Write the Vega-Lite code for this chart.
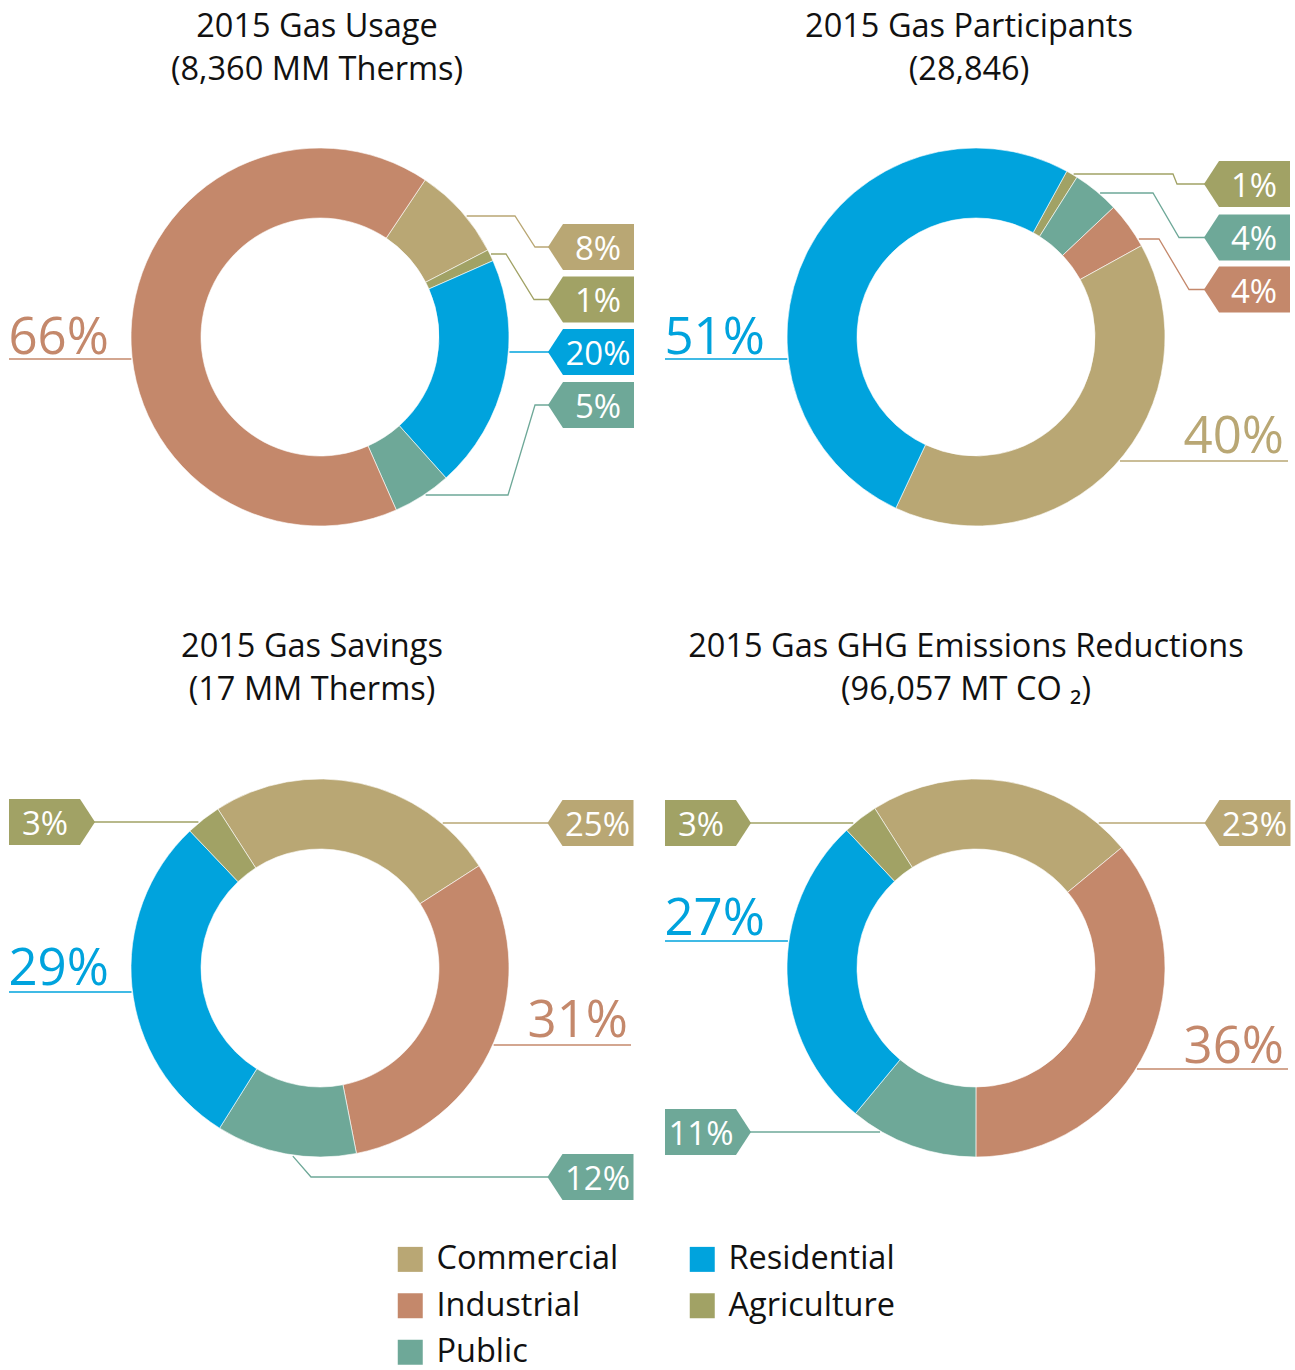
{
  "$schema": "https://vega.github.io/schema/vega-lite/v6.json",
  "background": "white",
  "padding": {"top": 10, "left": 0, "right": 0, "bottom": 0},
  "config": {
    "view": {"stroke": null},
    "font": "Open Sans",
    "title": {"font": "Open Sans", "fontSize": 32.5, "fontWeight": "normal", "color": "#111111", "lineHeight": 43, "anchor": "middle"},
    "legend": {"labelFont": "Open Sans", "labelFontSize": 32.5, "labelColor": "#111111", "labelLimit": 400, "symbolSize": 625, "symbolType": "square", "symbolStrokeWidth": 0, "symbolOpacity": 1, "labelOffset": 10, "rowPadding": 13.5, "columnPadding": 67}
  },
  "datasets": {
    "slices": [
      {"chart": "usage", "category": "Commercial", "pct": 8, "order": 1, "kind": "tag", "side": "right", "lx": 1.4263, "ly": -0.4737},
      {"chart": "usage", "category": "Agriculture", "pct": 1, "order": 2, "kind": "tag", "side": "right", "lx": 1.4263, "ly": -0.1974},
      {"chart": "usage", "category": "Residential", "pct": 20, "order": 3, "kind": "tag", "side": "right", "lx": 1.4263, "ly": 0.0789},
      {"chart": "usage", "category": "Public", "pct": 5, "order": 4, "kind": "tag", "side": "right", "lx": 1.4263, "ly": 0.3579},
      {"chart": "usage", "category": "Industrial", "pct": 66, "order": 5, "kind": "big", "side": "left", "lx": -1.64, "ly": 0.0895},
      {"chart": "participants", "category": "Agriculture", "pct": 1, "order": 1, "kind": "tag", "side": "right", "lx": 1.4263, "ly": -0.8053},
      {"chart": "participants", "category": "Public", "pct": 4, "order": 2, "kind": "tag", "side": "right", "lx": 1.4263, "ly": -0.5237},
      {"chart": "participants", "category": "Industrial", "pct": 4, "order": 3, "kind": "tag", "side": "right", "lx": 1.4263, "ly": -0.25},
      {"chart": "participants", "category": "Commercial", "pct": 40, "order": 4, "kind": "big", "side": "right", "lx": 1.6211, "ly": 0.6105},
      {"chart": "participants", "category": "Residential", "pct": 51, "order": 5, "kind": "big", "side": "left", "lx": -1.64, "ly": 0.0895},
      {"chart": "savings", "category": "Commercial", "pct": 25, "order": 1, "kind": "tag", "side": "right", "lx": 1.4237, "ly": -0.7632},
      {"chart": "savings", "category": "Industrial", "pct": 31, "order": 2, "kind": "big", "side": "right", "lx": 1.6211, "ly": 0.3632},
      {"chart": "savings", "category": "Public", "pct": 12, "order": 3, "kind": "tag", "side": "right", "lx": 1.4237, "ly": 1.1},
      {"chart": "savings", "category": "Residential", "pct": 29, "order": 4, "kind": "big", "side": "left", "lx": -1.64, "ly": 0.0895},
      {"chart": "savings", "category": "Agriculture", "pct": 3, "order": 5, "kind": "tag", "side": "left", "lx": -1.4105, "ly": -0.7684},
      {"chart": "ghg", "category": "Commercial", "pct": 23, "order": 1, "kind": "tag", "side": "right", "lx": 1.4289, "ly": -0.7632},
      {"chart": "ghg", "category": "Industrial", "pct": 36, "order": 2, "kind": "big", "side": "right", "lx": 1.6211, "ly": 0.5},
      {"chart": "ghg", "category": "Public", "pct": 11, "order": 3, "kind": "tag", "side": "left", "lx": -1.4105, "ly": 0.8632},
      {"chart": "ghg", "category": "Residential", "pct": 27, "order": 4, "kind": "big", "side": "left", "lx": -1.64, "ly": -0.1737},
      {"chart": "ghg", "category": "Agriculture", "pct": 3, "order": 5, "kind": "tag", "side": "left", "lx": -1.4105, "ly": -0.7632}
    ],
    "leaders": [
      {"chart": "usage", "category": "Industrial", "seq": 1, "lx": -1.6368, "ly": 0.1158},
      {"chart": "usage", "category": "Industrial", "seq": 2, "lx": -0.993, "ly": 0.1158},
      {"chart": "usage", "category": "Commercial", "seq": 1, "lx": 0.772, "ly": -0.6368},
      {"chart": "usage", "category": "Commercial", "seq": 2, "lx": 1.0263, "ly": -0.6368},
      {"chart": "usage", "category": "Commercial", "seq": 3, "lx": 1.1316, "ly": -0.4737},
      {"chart": "usage", "category": "Commercial", "seq": 4, "lx": 1.21, "ly": -0.4737},
      {"chart": "usage", "category": "Agriculture", "seq": 1, "lx": 0.90, "ly": -0.4368},
      {"chart": "usage", "category": "Agriculture", "seq": 2, "lx": 0.9789, "ly": -0.4368},
      {"chart": "usage", "category": "Agriculture", "seq": 3, "lx": 1.1263, "ly": -0.1974},
      {"chart": "usage", "category": "Agriculture", "seq": 4, "lx": 1.21, "ly": -0.1974},
      {"chart": "usage", "category": "Residential", "seq": 1, "lx": 0.997, "ly": 0.0789},
      {"chart": "usage", "category": "Residential", "seq": 2, "lx": 1.21, "ly": 0.0789},
      {"chart": "usage", "category": "Public", "seq": 1, "lx": 0.556, "ly": 0.8316},
      {"chart": "usage", "category": "Public", "seq": 2, "lx": 0.9895, "ly": 0.8316},
      {"chart": "usage", "category": "Public", "seq": 3, "lx": 1.1316, "ly": 0.3579},
      {"chart": "usage", "category": "Public", "seq": 4, "lx": 1.21, "ly": 0.3579},
      {"chart": "participants", "category": "Residential", "seq": 1, "lx": -1.6368, "ly": 0.1158},
      {"chart": "participants", "category": "Residential", "seq": 2, "lx": -0.993, "ly": 0.1158},
      {"chart": "participants", "category": "Commercial", "seq": 1, "lx": 0.758, "ly": 0.6526},
      {"chart": "participants", "category": "Commercial", "seq": 2, "lx": 1.6421, "ly": 0.6526},
      {"chart": "participants", "category": "Agriculture", "seq": 1, "lx": 0.514, "ly": -0.8579},
      {"chart": "participants", "category": "Agriculture", "seq": 2, "lx": 1.0368, "ly": -0.8579},
      {"chart": "participants", "category": "Agriculture", "seq": 3, "lx": 1.0579, "ly": -0.8053},
      {"chart": "participants", "category": "Agriculture", "seq": 4, "lx": 1.21, "ly": -0.8053},
      {"chart": "participants", "category": "Public", "seq": 1, "lx": 0.653, "ly": -0.7579},
      {"chart": "participants", "category": "Public", "seq": 2, "lx": 0.9316, "ly": -0.7579},
      {"chart": "participants", "category": "Public", "seq": 3, "lx": 1.0684, "ly": -0.5237},
      {"chart": "participants", "category": "Public", "seq": 4, "lx": 1.21, "ly": -0.5237},
      {"chart": "participants", "category": "Industrial", "seq": 1, "lx": 0.857, "ly": -0.5158},
      {"chart": "participants", "category": "Industrial", "seq": 2, "lx": 0.9632, "ly": -0.5158},
      {"chart": "participants", "category": "Industrial", "seq": 3, "lx": 1.1211, "ly": -0.25},
      {"chart": "participants", "category": "Industrial", "seq": 4, "lx": 1.21, "ly": -0.25},
      {"chart": "savings", "category": "Agriculture", "seq": 1, "lx": -1.19, "ly": -0.7684},
      {"chart": "savings", "category": "Agriculture", "seq": 2, "lx": -0.640, "ly": -0.7684},
      {"chart": "savings", "category": "Commercial", "seq": 1, "lx": 0.646, "ly": -0.7632},
      {"chart": "savings", "category": "Commercial", "seq": 2, "lx": 1.21, "ly": -0.7632},
      {"chart": "savings", "category": "Residential", "seq": 1, "lx": -1.6368, "ly": 0.1263},
      {"chart": "savings", "category": "Residential", "seq": 2, "lx": -0.992, "ly": 0.1263},
      {"chart": "savings", "category": "Industrial", "seq": 1, "lx": 0.914, "ly": 0.4053},
      {"chart": "savings", "category": "Industrial", "seq": 2, "lx": 1.6368, "ly": 0.4053},
      {"chart": "savings", "category": "Public", "seq": 1, "lx": -0.143, "ly": 0.99},
      {"chart": "savings", "category": "Public", "seq": 2, "lx": -0.0474, "ly": 1.1},
      {"chart": "savings", "category": "Public", "seq": 3, "lx": 1.21, "ly": 1.1},
      {"chart": "ghg", "category": "Agriculture", "seq": 1, "lx": -1.19, "ly": -0.7632},
      {"chart": "ghg", "category": "Agriculture", "seq": 2, "lx": -0.646, "ly": -0.7632},
      {"chart": "ghg", "category": "Commercial", "seq": 1, "lx": 0.646, "ly": -0.7632},
      {"chart": "ghg", "category": "Commercial", "seq": 2, "lx": 1.21, "ly": -0.7632},
      {"chart": "ghg", "category": "Residential", "seq": 1, "lx": -1.6368, "ly": -0.1421},
      {"chart": "ghg", "category": "Residential", "seq": 2, "lx": -0.990, "ly": -0.1421},
      {"chart": "ghg", "category": "Industrial", "seq": 1, "lx": 0.847, "ly": 0.5316},
      {"chart": "ghg", "category": "Industrial", "seq": 2, "lx": 1.6421, "ly": 0.5316},
      {"chart": "ghg", "category": "Public", "seq": 1, "lx": -1.19, "ly": 0.8632},
      {"chart": "ghg", "category": "Public", "seq": 2, "lx": -0.505, "ly": 0.8632}
    ]
  },
  "columns": 2,
  "spacing": {"row": 53, "column": 16},
  "resolve": {"scale": {"theta": "independent", "x": "independent", "y": "independent"}},
  "concat": [
    {
      "width": 640, "height": 480,
      "title": {"text": ["2015 Gas Usage", "(8,360 MM Therms)"], "offset": 11, "dx": -3},
      "layer": [
        {"data": {"name": "slices"}, "transform": [{"filter": "datum.chart === 'usage'"}],
         "mark": {"type": "arc", "outerRadius": 189, "innerRadius": 119, "stroke": "#ffffff", "strokeWidth": 0.6},
         "encoding": {
           "theta": {"field": "pct", "type": "quantitative", "stack": true, "scale": {"range": [0.590, 6.8732]}},
           "order": {"field": "order", "type": "quantitative"},
           "color": {"field": "category", "type": "nominal", "scale": {"domain": ["Commercial", "Industrial", "Public", "Residential", "Agriculture"], "range": ["#B9A774", "#C4886B", "#6EA898", "#00A3DD", "#A1A265"]},
             "legend": {"orient": "none", "legendX": 394, "legendY": 1146, "columns": 2, "title": null, "symbolType": "square"}}
         }},
        {"data": {"name": "leaders"}, "transform": [{"filter": "datum.chart === 'usage'"}],
         "mark": {"type": "line", "strokeWidth": 1.3},
         "encoding": {
           "x": {"field": "lx", "type": "quantitative", "scale": {"domain": [-1.68421, 1.68421], "nice": false, "zero": false}, "axis": null},
           "y": {"field": "ly", "type": "quantitative", "scale": {"domain": [-1.26316, 1.26316], "nice": false, "zero": false, "reverse": true}, "axis": null},
           "order": {"field": "seq", "type": "quantitative"},
           "color": {"field": "category", "type": "nominal", "legend": null}
         }},
        {"data": {"name": "slices"}, "transform": [{"filter": "datum.chart === 'usage' && datum.kind === 'tag' && datum.side === 'right'"}],
         "mark": {"type": "point", "shape": "M-1,0L-0.651,-0.535L1,-0.535L1,0.535L-0.651,0.535Z", "size": 7396, "filled": true, "opacity": 1, "strokeWidth": 0},
         "encoding": {
           "x": {"field": "lx", "type": "quantitative"},
           "y": {"field": "ly", "type": "quantitative"},
           "color": {"field": "category", "type": "nominal", "legend": null}
         }},
        {"data": {"name": "slices"}, "transform": [{"filter": "datum.chart === 'usage' && datum.kind === 'tag' && datum.side === 'right'"}, {"calculate": "datum.pct + '%'", "as": "lbl"}],
         "mark": {"type": "text", "font": "Open Sans", "fontSize": 33, "color": "#ffffff", "align": "center", "baseline": "middle", "dx": 7, "dy": 3},
         "encoding": {
           "x": {"field": "lx", "type": "quantitative"},
           "y": {"field": "ly", "type": "quantitative"},
           "text": {"field": "lbl"}
         }},
        {"data": {"name": "slices"}, "transform": [{"filter": "datum.chart === 'usage' && datum.kind === 'big' && datum.side === 'left'"}, {"calculate": "datum.pct + '%'", "as": "lbl"}],
         "mark": {"type": "text", "font": "Open Sans", "fontSize": 51, "align": "left", "baseline": "alphabetic"},
         "encoding": {
           "x": {"field": "lx", "type": "quantitative"},
           "y": {"field": "ly", "type": "quantitative"},
           "text": {"field": "lbl"},
           "color": {"field": "category", "type": "nominal", "legend": null}
         }}
      ]
    },
    {
      "width": 640, "height": 480,
      "title": {"text": ["2015 Gas Participants", "(28,846)"], "offset": 11, "dx": -7},
      "layer": [
        {"data": {"name": "slices"}, "transform": [{"filter": "datum.chart === 'participants'"}],
         "mark": {"type": "arc", "outerRadius": 189, "innerRadius": 119, "stroke": "#ffffff", "strokeWidth": 0.6},
         "encoding": {
           "theta": {"field": "pct", "type": "quantitative", "stack": true, "scale": {"range": [0.501, 6.7842]}},
           "order": {"field": "order", "type": "quantitative"},
           "color": {"field": "category", "type": "nominal", "legend": null}
         }},
        {"data": {"name": "leaders"}, "transform": [{"filter": "datum.chart === 'participants'"}],
         "mark": {"type": "line", "strokeWidth": 1.3},
         "encoding": {
           "x": {"field": "lx", "type": "quantitative", "scale": {"domain": [-1.68421, 1.68421], "nice": false, "zero": false}, "axis": null},
           "y": {"field": "ly", "type": "quantitative", "scale": {"domain": [-1.26316, 1.26316], "nice": false, "zero": false, "reverse": true}, "axis": null},
           "order": {"field": "seq", "type": "quantitative"},
           "color": {"field": "category", "type": "nominal", "legend": null}
         }},
        {"data": {"name": "slices"}, "transform": [{"filter": "datum.chart === 'participants' && datum.kind === 'tag' && datum.side === 'right'"}],
         "mark": {"type": "point", "shape": "M-1,0L-0.651,-0.535L1,-0.535L1,0.535L-0.651,0.535Z", "size": 7396, "filled": true, "opacity": 1, "strokeWidth": 0},
         "encoding": {
           "x": {"field": "lx", "type": "quantitative"},
           "y": {"field": "ly", "type": "quantitative"},
           "color": {"field": "category", "type": "nominal", "legend": null}
         }},
        {"data": {"name": "slices"}, "transform": [{"filter": "datum.chart === 'participants' && datum.kind === 'tag' && datum.side === 'right'"}, {"calculate": "datum.pct + '%'", "as": "lbl"}],
         "mark": {"type": "text", "font": "Open Sans", "fontSize": 33, "color": "#ffffff", "align": "center", "baseline": "middle", "dx": 7, "dy": 3},
         "encoding": {
           "x": {"field": "lx", "type": "quantitative"},
           "y": {"field": "ly", "type": "quantitative"},
           "text": {"field": "lbl"}
         }},
        {"data": {"name": "slices"}, "transform": [{"filter": "datum.chart === 'participants' && datum.kind === 'big' && datum.side === 'left'"}, {"calculate": "datum.pct + '%'", "as": "lbl"}],
         "mark": {"type": "text", "font": "Open Sans", "fontSize": 51, "align": "left", "baseline": "alphabetic"},
         "encoding": {
           "x": {"field": "lx", "type": "quantitative"},
           "y": {"field": "ly", "type": "quantitative"},
           "text": {"field": "lbl"},
           "color": {"field": "category", "type": "nominal", "legend": null}
         }},
        {"data": {"name": "slices"}, "transform": [{"filter": "datum.chart === 'participants' && datum.kind === 'big' && datum.side === 'right'"}, {"calculate": "datum.pct + '%'", "as": "lbl"}],
         "mark": {"type": "text", "font": "Open Sans", "fontSize": 51, "align": "right", "baseline": "alphabetic"},
         "encoding": {
           "x": {"field": "lx", "type": "quantitative"},
           "y": {"field": "ly", "type": "quantitative"},
           "text": {"field": "lbl"},
           "color": {"field": "category", "type": "nominal", "legend": null}
         }}
      ]
    },
    {
      "width": 640, "height": 480,
      "title": {"text": ["2015 Gas Savings", "(17 MM Therms)"], "offset": 22, "dx": -8},
      "layer": [
        {"data": {"name": "slices"}, "transform": [{"filter": "datum.chart === 'savings'"}],
         "mark": {"type": "arc", "outerRadius": 189, "innerRadius": 119, "stroke": "#ffffff", "strokeWidth": 0.6},
         "encoding": {
           "theta": {"field": "pct", "type": "quantitative", "stack": true, "scale": {"range": [-0.571, 5.7122]}},
           "order": {"field": "order", "type": "quantitative"},
           "color": {"field": "category", "type": "nominal", "legend": null}
         }},
        {"data": {"name": "leaders"}, "transform": [{"filter": "datum.chart === 'savings'"}],
         "mark": {"type": "line", "strokeWidth": 1.3},
         "encoding": {
           "x": {"field": "lx", "type": "quantitative", "scale": {"domain": [-1.68421, 1.68421], "nice": false, "zero": false}, "axis": null},
           "y": {"field": "ly", "type": "quantitative", "scale": {"domain": [-1.26316, 1.26316], "nice": false, "zero": false, "reverse": true}, "axis": null},
           "order": {"field": "seq", "type": "quantitative"},
           "color": {"field": "category", "type": "nominal", "legend": null}
         }},
        {"data": {"name": "slices"}, "transform": [{"filter": "datum.chart === 'savings' && datum.kind === 'tag' && datum.side === 'right'"}],
         "mark": {"type": "point", "shape": "M-1,0L-0.651,-0.535L1,-0.535L1,0.535L-0.651,0.535Z", "size": 7396, "filled": true, "opacity": 1, "strokeWidth": 0},
         "encoding": {
           "x": {"field": "lx", "type": "quantitative"},
           "y": {"field": "ly", "type": "quantitative"},
           "color": {"field": "category", "type": "nominal", "legend": null}
         }},
        {"data": {"name": "slices"}, "transform": [{"filter": "datum.chart === 'savings' && datum.kind === 'tag' && datum.side === 'left'"}],
         "mark": {"type": "point", "shape": "M1,0L0.651,-0.535L-1,-0.535L-1,0.535L0.651,0.535Z", "size": 7396, "filled": true, "opacity": 1, "strokeWidth": 0},
         "encoding": {
           "x": {"field": "lx", "type": "quantitative"},
           "y": {"field": "ly", "type": "quantitative"},
           "color": {"field": "category", "type": "nominal", "legend": null}
         }},
        {"data": {"name": "slices"}, "transform": [{"filter": "datum.chart === 'savings' && datum.kind === 'tag' && datum.side === 'right'"}, {"calculate": "datum.pct + '%'", "as": "lbl"}],
         "mark": {"type": "text", "font": "Open Sans", "fontSize": 33, "color": "#ffffff", "align": "center", "baseline": "middle", "dx": 7, "dy": 3},
         "encoding": {
           "x": {"field": "lx", "type": "quantitative"},
           "y": {"field": "ly", "type": "quantitative"},
           "text": {"field": "lbl"}
         }},
        {"data": {"name": "slices"}, "transform": [{"filter": "datum.chart === 'savings' && datum.kind === 'tag' && datum.side === 'left'"}, {"calculate": "datum.pct + '%'", "as": "lbl"}],
         "mark": {"type": "text", "font": "Open Sans", "fontSize": 33, "color": "#ffffff", "align": "center", "baseline": "middle", "dx": -7, "dy": 3},
         "encoding": {
           "x": {"field": "lx", "type": "quantitative"},
           "y": {"field": "ly", "type": "quantitative"},
           "text": {"field": "lbl"}
         }},
        {"data": {"name": "slices"}, "transform": [{"filter": "datum.chart === 'savings' && datum.kind === 'big' && datum.side === 'left'"}, {"calculate": "datum.pct + '%'", "as": "lbl"}],
         "mark": {"type": "text", "font": "Open Sans", "fontSize": 51, "align": "left", "baseline": "alphabetic"},
         "encoding": {
           "x": {"field": "lx", "type": "quantitative"},
           "y": {"field": "ly", "type": "quantitative"},
           "text": {"field": "lbl"},
           "color": {"field": "category", "type": "nominal", "legend": null}
         }},
        {"data": {"name": "slices"}, "transform": [{"filter": "datum.chart === 'savings' && datum.kind === 'big' && datum.side === 'right'"}, {"calculate": "datum.pct + '%'", "as": "lbl"}],
         "mark": {"type": "text", "font": "Open Sans", "fontSize": 51, "align": "right", "baseline": "alphabetic"},
         "encoding": {
           "x": {"field": "lx", "type": "quantitative"},
           "y": {"field": "ly", "type": "quantitative"},
           "text": {"field": "lbl"},
           "color": {"field": "category", "type": "nominal", "legend": null}
         }}
      ]
    },
    {
      "width": 640, "height": 480,
      "title": {"text": ["2015 Gas GHG Emissions Reductions", "(96,057 MT CO ₂)"], "offset": 22, "dx": -10},
      "layer": [
        {"data": {"name": "slices"}, "transform": [{"filter": "datum.chart === 'ghg'"}],
         "mark": {"type": "arc", "outerRadius": 189, "innerRadius": 119, "stroke": "#ffffff", "strokeWidth": 0.6},
         "encoding": {
           "theta": {"field": "pct", "type": "quantitative", "stack": true, "scale": {"range": [-0.565, 5.7182]}},
           "order": {"field": "order", "type": "quantitative"},
           "color": {"field": "category", "type": "nominal", "legend": null}
         }},
        {"data": {"name": "leaders"}, "transform": [{"filter": "datum.chart === 'ghg'"}],
         "mark": {"type": "line", "strokeWidth": 1.3},
         "encoding": {
           "x": {"field": "lx", "type": "quantitative", "scale": {"domain": [-1.68421, 1.68421], "nice": false, "zero": false}, "axis": null},
           "y": {"field": "ly", "type": "quantitative", "scale": {"domain": [-1.26316, 1.26316], "nice": false, "zero": false, "reverse": true}, "axis": null},
           "order": {"field": "seq", "type": "quantitative"},
           "color": {"field": "category", "type": "nominal", "legend": null}
         }},
        {"data": {"name": "slices"}, "transform": [{"filter": "datum.chart === 'ghg' && datum.kind === 'tag' && datum.side === 'right'"}],
         "mark": {"type": "point", "shape": "M-1,0L-0.651,-0.535L1,-0.535L1,0.535L-0.651,0.535Z", "size": 7396, "filled": true, "opacity": 1, "strokeWidth": 0},
         "encoding": {
           "x": {"field": "lx", "type": "quantitative"},
           "y": {"field": "ly", "type": "quantitative"},
           "color": {"field": "category", "type": "nominal", "legend": null}
         }},
        {"data": {"name": "slices"}, "transform": [{"filter": "datum.chart === 'ghg' && datum.kind === 'tag' && datum.side === 'left'"}],
         "mark": {"type": "point", "shape": "M1,0L0.651,-0.535L-1,-0.535L-1,0.535L0.651,0.535Z", "size": 7396, "filled": true, "opacity": 1, "strokeWidth": 0},
         "encoding": {
           "x": {"field": "lx", "type": "quantitative"},
           "y": {"field": "ly", "type": "quantitative"},
           "color": {"field": "category", "type": "nominal", "legend": null}
         }},
        {"data": {"name": "slices"}, "transform": [{"filter": "datum.chart === 'ghg' && datum.kind === 'tag' && datum.side === 'right'"}, {"calculate": "datum.pct + '%'", "as": "lbl"}],
         "mark": {"type": "text", "font": "Open Sans", "fontSize": 33, "color": "#ffffff", "align": "center", "baseline": "middle", "dx": 7, "dy": 3},
         "encoding": {
           "x": {"field": "lx", "type": "quantitative"},
           "y": {"field": "ly", "type": "quantitative"},
           "text": {"field": "lbl"}
         }},
        {"data": {"name": "slices"}, "transform": [{"filter": "datum.chart === 'ghg' && datum.kind === 'tag' && datum.side === 'left'"}, {"calculate": "datum.pct + '%'", "as": "lbl"}],
         "mark": {"type": "text", "font": "Open Sans", "fontSize": 33, "color": "#ffffff", "align": "center", "baseline": "middle", "dx": -7, "dy": 3},
         "encoding": {
           "x": {"field": "lx", "type": "quantitative"},
           "y": {"field": "ly", "type": "quantitative"},
           "text": {"field": "lbl"}
         }},
        {"data": {"name": "slices"}, "transform": [{"filter": "datum.chart === 'ghg' && datum.kind === 'big' && datum.side === 'left'"}, {"calculate": "datum.pct + '%'", "as": "lbl"}],
         "mark": {"type": "text", "font": "Open Sans", "fontSize": 51, "align": "left", "baseline": "alphabetic"},
         "encoding": {
           "x": {"field": "lx", "type": "quantitative"},
           "y": {"field": "ly", "type": "quantitative"},
           "text": {"field": "lbl"},
           "color": {"field": "category", "type": "nominal", "legend": null}
         }},
        {"data": {"name": "slices"}, "transform": [{"filter": "datum.chart === 'ghg' && datum.kind === 'big' && datum.side === 'right'"}, {"calculate": "datum.pct + '%'", "as": "lbl"}],
         "mark": {"type": "text", "font": "Open Sans", "fontSize": 51, "align": "right", "baseline": "alphabetic"},
         "encoding": {
           "x": {"field": "lx", "type": "quantitative"},
           "y": {"field": "ly", "type": "quantitative"},
           "text": {"field": "lbl"},
           "color": {"field": "category", "type": "nominal", "legend": null}
         }}
      ]
    }
  ]
}
